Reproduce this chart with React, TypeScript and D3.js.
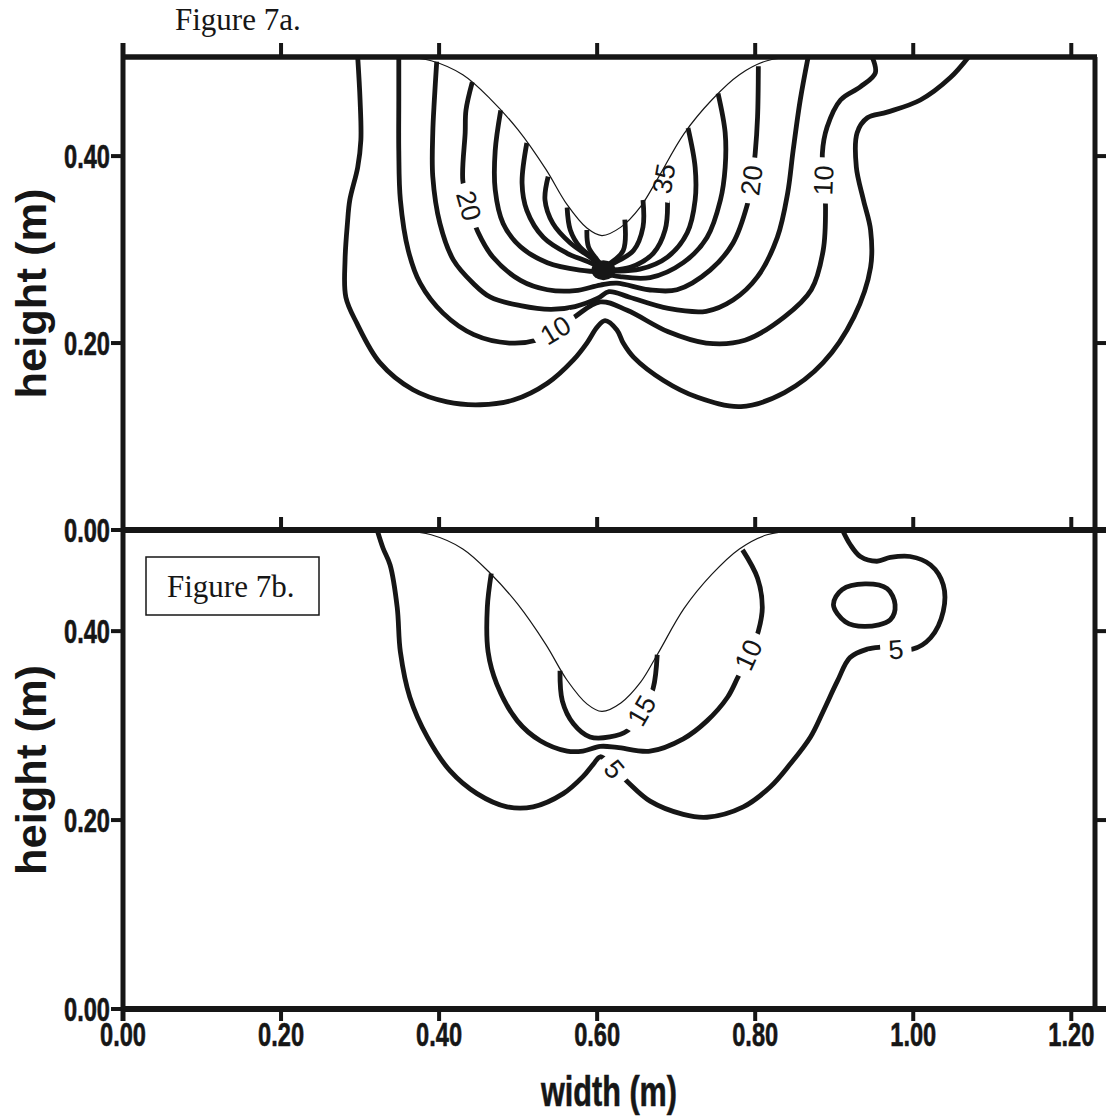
import React from 'react';
import * as d3 from 'd3';

type Pt = [number, number];

// axes
const xTicks = [0, 0.2, 0.4, 0.6, 0.8, 1.0, 1.2];
const yTicks = [0, 0.2, 0.4];
const yTicksRight = [0.2, 0.4];
const xDomain: Pt = [0, 1.23];
const yDomain: Pt = [0, 0.506];

// thin free-surface curve (same in both figures)
const surface: Pt[] = [
  [0.355, 0.506], [0.39, 0.502], [0.43, 0.487], [0.465, 0.461], [0.5, 0.428],
  [0.535, 0.386], [0.562, 0.348], [0.587, 0.323], [0.606, 0.315], [0.63, 0.324],
  [0.655, 0.346], [0.676, 0.375], [0.71, 0.424], [0.745, 0.46], [0.78, 0.487],
  [0.815, 0.502], [0.855, 0.506],
];

// Figure 7a contours
const a5: Pt[] = [
  [0.297, 0.506], [0.3, 0.46], [0.301, 0.417], [0.297, 0.388], [0.287, 0.353],
  [0.284, 0.328], [0.281, 0.289], [0.282, 0.249], [0.296, 0.221], [0.325, 0.179],
  [0.367, 0.15], [0.41, 0.137], [0.452, 0.134], [0.494, 0.139], [0.537, 0.157],
  [0.57, 0.182], [0.587, 0.2], [0.6, 0.217], [0.61, 0.224], [0.625, 0.214],
  [0.633, 0.2], [0.646, 0.185], [0.684, 0.16], [0.727, 0.142], [0.782, 0.132],
  [0.837, 0.147], [0.886, 0.179], [0.925, 0.228], [0.946, 0.281], [0.946, 0.321],
  [0.937, 0.353], [0.928, 0.388], [0.929, 0.425], [0.942, 0.441], [0.967, 0.447],
  [1.009, 0.46], [1.047, 0.484], [1.07, 0.506],
];
const a10: Pt[] = [
  [0.349, 0.506], [0.349, 0.46], [0.349, 0.406], [0.351, 0.353], [0.361, 0.299],
  [0.376, 0.264], [0.405, 0.232], [0.444, 0.209], [0.489, 0.2], [0.523, 0.203],
  [0.547, 0.213], [0.57, 0.227], [0.604, 0.244], [0.638, 0.235], [0.69, 0.212],
  [0.738, 0.2], [0.787, 0.203], [0.837, 0.228], [0.871, 0.257], [0.886, 0.299],
  [0.889, 0.345], [0.887, 0.374], [0.885, 0.403], [0.891, 0.431], [0.908, 0.46],
  [0.933, 0.474], [0.952, 0.489], [0.948, 0.506],
];
const a15: Pt[] = [
  [0.397, 0.501], [0.394, 0.46], [0.392, 0.425], [0.392, 0.378], [0.401, 0.328],
  [0.418, 0.289], [0.443, 0.264], [0.465, 0.249], [0.503, 0.24], [0.541, 0.236],
  [0.572, 0.239], [0.601, 0.248], [0.615, 0.255], [0.641, 0.249], [0.69, 0.237],
  [0.738, 0.234], [0.772, 0.246], [0.803, 0.271], [0.828, 0.313], [0.841, 0.36],
  [0.848, 0.406], [0.857, 0.46], [0.867, 0.506],
];
const a20: Pt[] = [
  [0.442, 0.479], [0.434, 0.449], [0.433, 0.425], [0.43, 0.374], [0.437, 0.348],
  [0.449, 0.319], [0.468, 0.292], [0.503, 0.267], [0.537, 0.257], [0.572, 0.256],
  [0.604, 0.262], [0.625, 0.264], [0.665, 0.257], [0.701, 0.257], [0.743, 0.278],
  [0.772, 0.307], [0.79, 0.348], [0.796, 0.374], [0.8, 0.403], [0.803, 0.442],
  [0.804, 0.496],
];
const a25L: Pt[] = [
  [0.478, 0.449], [0.471, 0.406], [0.471, 0.364], [0.481, 0.328], [0.503, 0.303],
  [0.537, 0.286], [0.578, 0.278], [0.608, 0.276],
];
const a25R: Pt[] = [
  [0.753, 0.467], [0.762, 0.425], [0.762, 0.388], [0.756, 0.353], [0.739, 0.313],
  [0.709, 0.286], [0.667, 0.27], [0.629, 0.271], [0.608, 0.275],
];
const a30L: Pt[] = [
  [0.511, 0.414], [0.505, 0.371], [0.511, 0.342], [0.532, 0.313], [0.562, 0.296],
  [0.591, 0.286], [0.608, 0.278],
];
const a30R: Pt[] = [
  [0.715, 0.43], [0.724, 0.388], [0.724, 0.353], [0.714, 0.318], [0.689, 0.292],
  [0.654, 0.279], [0.62, 0.277], [0.608, 0.277],
];
const a35L: Pt[] = [
  [0.538, 0.378], [0.534, 0.353], [0.544, 0.328], [0.566, 0.307], [0.591, 0.292],
  [0.608, 0.28],
];
const a35R: Pt[] = [
  [0.684, 0.386], [0.689, 0.353], [0.686, 0.321], [0.671, 0.296], [0.642, 0.281],
  [0.616, 0.278], [0.608, 0.278],
];
const a40L: Pt[] = [[0.562, 0.345], [0.566, 0.321], [0.578, 0.303], [0.595, 0.291], [0.608, 0.282]];
const a40R: Pt[] = [[0.658, 0.353], [0.658, 0.324], [0.646, 0.299], [0.62, 0.285], [0.608, 0.28]];
const a45L: Pt[] = [[0.587, 0.321], [0.589, 0.303], [0.6, 0.289], [0.608, 0.281]];
const a45R: Pt[] = [[0.635, 0.332], [0.633, 0.299], [0.616, 0.285], [0.608, 0.281]];
const aSingular: Pt = [0.608, 0.278];

// Figure 7b contours
const b5: Pt[] = [
  [0.322, 0.506], [0.329, 0.488], [0.338, 0.47], [0.347, 0.425], [0.351, 0.378],
  [0.363, 0.33], [0.385, 0.288], [0.414, 0.252], [0.448, 0.228], [0.486, 0.214],
  [0.519, 0.214], [0.557, 0.228], [0.582, 0.246], [0.595, 0.259], [0.604, 0.267],
  [0.62, 0.256], [0.639, 0.24], [0.667, 0.22], [0.709, 0.206], [0.739, 0.203],
  [0.785, 0.214], [0.819, 0.235], [0.844, 0.259], [0.87, 0.288], [0.886, 0.315],
  [0.904, 0.347], [0.92, 0.372], [0.942, 0.381], [0.958, 0.383], [0.977, 0.383],
  [0.999, 0.381], [1.022, 0.393], [1.038, 0.421], [1.038, 0.449], [1.022, 0.47],
  [0.996, 0.479], [0.971, 0.478], [0.954, 0.474], [0.933, 0.479], [0.92, 0.492],
  [0.911, 0.506],
];
const b5Island: Pt[] = [
  [0.899, 0.428], [0.91, 0.444], [0.939, 0.45], [0.967, 0.445], [0.977, 0.428],
  [0.971, 0.412], [0.939, 0.405], [0.914, 0.41],
];
const b10: Pt[] = [
  [0.466, 0.461], [0.461, 0.425], [0.462, 0.378], [0.473, 0.344], [0.499, 0.305],
  [0.528, 0.284], [0.562, 0.273], [0.582, 0.273], [0.604, 0.278], [0.625, 0.277],
  [0.667, 0.273], [0.709, 0.286], [0.739, 0.305], [0.765, 0.33], [0.778, 0.351],
  [0.794, 0.378], [0.804, 0.4], [0.809, 0.425], [0.803, 0.456], [0.784, 0.486],
];
const b15: Pt[] = [
  [0.553, 0.358], [0.556, 0.326], [0.57, 0.302], [0.591, 0.288], [0.616, 0.288],
  [0.639, 0.295], [0.658, 0.315], [0.671, 0.34], [0.676, 0.375],
];

// contour labels: text, x, y, angle
const labelsA: [string, number, number, number][] = [
  ['20', 0.438, 0.347, 74],
  ['10', 0.547, 0.214, -31],
  ['35', 0.684, 0.376, -80],
  ['20', 0.795, 0.374, -83],
  ['10', 0.886, 0.374, -88],
];
const labelsB: [string, number, number, number][] = [
  ['15', 0.656, 0.316, -60],
  ['10', 0.791, 0.375, -65],
  ['5', 0.622, 0.254, 50],
  ['5', 0.978, 0.381, -5],
];

const contoursA = [a5, a10, a15, a20, a25L, a25R, a30L, a30R, a35L, a35R, a40L, a40R, a45L, a45R];
const contoursB = [b5, b10, b15];

const INK = '#161616';
const NARROW = "'Liberation Sans Narrow', 'Arial Narrow', 'Liberation Sans', Arial, sans-serif";
const SANS = "'Liberation Sans', Arial, sans-serif";
const SERIF = "'Liberation Serif', 'Times New Roman', serif";

const x = d3.scaleLinear().domain(xDomain).range([123, 1095]);
const yA = d3.scaleLinear().domain(yDomain).range([530, 57]);
const yB = d3.scaleLinear().domain(yDomain).range([1009, 531]);

interface PanelProps {
  id: string;
  y: d3.ScaleLinear<number, number>;
  contours: Pt[][];
  islands?: Pt[][];
  labels: [string, number, number, number][];
  singular?: Pt;
}

const Panel: React.FC<PanelProps> = ({ id, y, contours, islands = [], labels, singular }) => {
  const line = d3.line<Pt>().x(d => x(d[0])).y(d => y(d[1])).curve(d3.curveCatmullRom.alpha(0.5));
  const closed = d3.line<Pt>().x(d => x(d[0])).y(d => y(d[1])).curve(d3.curveCatmullRomClosed.alpha(0.5));
  const [x0, x1] = x.range();
  const [yb, yt] = y.range();
  return (
    <g>
      <defs>
        <clipPath id={id}>
          <rect x={x0} y={yt} width={x1 - x0} height={yb - yt} />
        </clipPath>
      </defs>
      <g clipPath={`url(#${id})`}>
        {contours.map((c, i) => (
          <path key={i} d={line(c) ?? ''} fill="none" stroke={INK} strokeWidth={4.8} strokeLinejoin="round" />
        ))}
        {islands.map((c, i) => (
          <path key={'i' + i} d={closed(c) ?? ''} fill="none" stroke={INK} strokeWidth={4.8} />
        ))}
        {singular && <ellipse cx={x(singular[0])} cy={y(singular[1])} rx={12} ry={10} fill={INK} />}
        {labels.map(([t, lx, ly, a], i) => {
          const w = t.length * 15 + 16;
          return (
            <g key={'l' + i} transform={`translate(${x(lx)},${y(ly)}) rotate(${a})`}>
              <rect x={-w / 2} y={-10} width={w} height={20} fill="#fff" />
              <text textAnchor="middle" dy="0.36em" fontFamily={SANS} fontSize={27} fill={INK}>{t}</text>
            </g>
          );
        })}
        <path d={line(surface) ?? ''} fill="none" stroke={INK} strokeWidth={1.2} />
      </g>
    </g>
  );
};

export default function App() {
  const [xl, xr] = x.range();
  const topY = yA.range()[1];
  const midY = yA.range()[0];
  const botY = yB.range()[0];
  const tick = 12;
  const axisW = 5.5;
  const tickFont = {
    fontFamily: NARROW, fontWeight: 700, fontSize: 33, fill: INK, stroke: INK, strokeWidth: 0.6,
  } as const;

  const yLabels = (y: d3.ScaleLinear<number, number>) =>
    yTicks.map(t => (
      <g key={t}>
        <line x1={xl - tick} x2={xl} y1={y(t)} y2={y(t)} stroke={INK} strokeWidth={4} />
        <text x={xl - 13} y={y(t) + 11.5} textAnchor="end" textLength={46} lengthAdjust="spacingAndGlyphs" {...tickFont}>
          {t.toFixed(2)}
        </text>
      </g>
    ));
  const yRight = (y: d3.ScaleLinear<number, number>) =>
    yTicksRight.map(t => (
      <line key={t} x1={xr} x2={xr + tick} y1={y(t)} y2={y(t)} stroke={INK} strokeWidth={4} />
    ));

  return (
    <svg width={1106} height={1120} style={{ position: 'absolute', left: 0, top: 0, background: '#fff' }}>
      <rect width={1106} height={1120} fill="#fff" />
      <text x={175} y={30} fontFamily={SERIF} fontSize={31} fill={INK}>Figure 7a.</text>

      <Panel id="clipA" y={yA} contours={contoursA} labels={labelsA} singular={aSingular} />
      <Panel id="clipB" y={yB} contours={contoursB} islands={[b5Island]} labels={labelsB} />

      <rect x={146} y={557} width={173} height={58} fill="#fff" stroke={INK} strokeWidth={1.5} />
      <text x={167} y={597} fontFamily={SERIF} fontSize={31} fill={INK}>Figure 7b.</text>

      {/* frame */}
      <line x1={xl} x2={xr + 2} y1={topY} y2={topY} stroke={INK} strokeWidth={axisW} />
      <line x1={xl - 2} x2={1106} y1={midY} y2={midY} stroke={INK} strokeWidth={6} />
      <line x1={xl - 2} x2={1106} y1={botY} y2={botY} stroke={INK} strokeWidth={6} />
      <line x1={xl} x2={xl} y1={topY - tick - 2} y2={botY + tick} stroke={INK} strokeWidth={5} />
      <line x1={xr} x2={xr} y1={topY} y2={botY} stroke={INK} strokeWidth={5} />

      {xTicks.filter(t => t > 0).map(t => (
        <g key={t}>
          <line x1={x(t)} x2={x(t)} y1={topY - tick - 2} y2={topY} stroke={INK} strokeWidth={4} />
          <line x1={x(t)} x2={x(t)} y1={midY - tick - 1} y2={midY} stroke={INK} strokeWidth={4} />
          <line x1={x(t)} x2={x(t)} y1={botY} y2={botY + tick} stroke={INK} strokeWidth={4} />
        </g>
      ))}
      {xTicks.map(t => (
        <text key={t} x={x(t)} y={1046} textAnchor="middle" textLength={46} lengthAdjust="spacingAndGlyphs" {...tickFont}>
          {t.toFixed(2)}
        </text>
      ))}

      {yLabels(yA)}
      {yLabels(yB)}
      {yRight(yA)}
      {yRight(yB)}

      {[yA, yB].map((y, i) => {
        const cy = (y.range()[0] + y.range()[1]) / 2;
        return (
          <text key={i} transform={`translate(46,${cy}) rotate(-90)`} textAnchor="middle" fontFamily={SANS}
            fontWeight={700} fontSize={42} fill={INK} textLength={210} lengthAdjust="spacingAndGlyphs">
            height (m)
          </text>
        );
      })}
      <text x={(xl + xr) / 2} y={1106} textAnchor="middle" fontFamily={NARROW} fontWeight={700} fontSize={42}
        fill={INK} stroke={INK} strokeWidth={0.6} textLength={136} lengthAdjust="spacingAndGlyphs">
        width (m)
      </text>
    </svg>
  );
}
